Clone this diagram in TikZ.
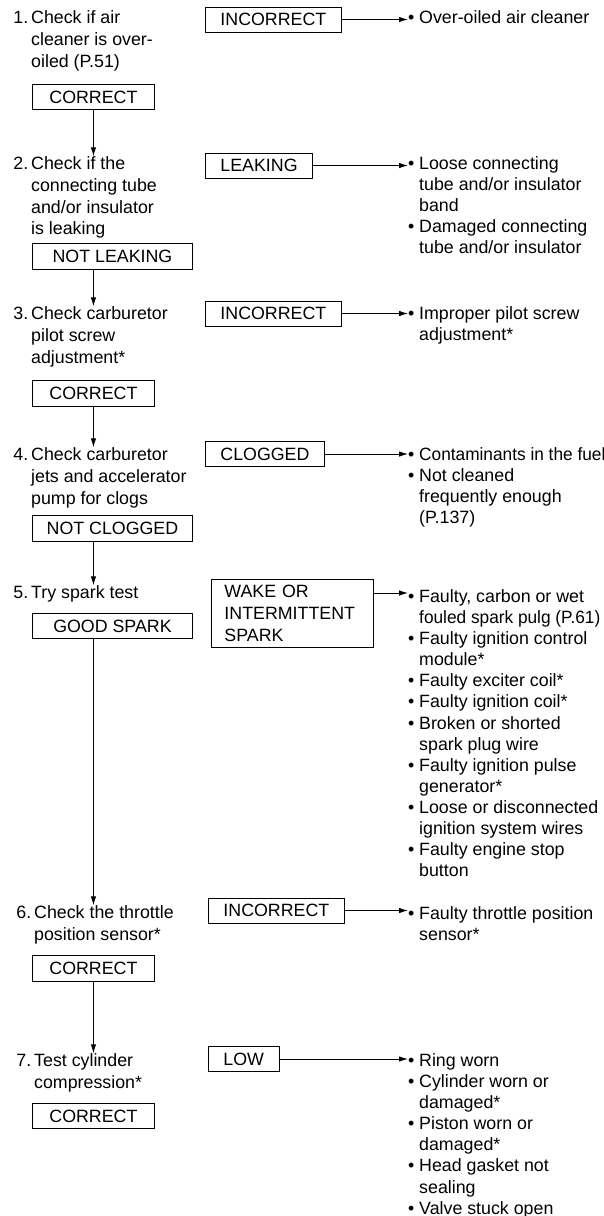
\documentclass[tikz,border=0pt]{standalone}
\usepackage{fontspec}
\setmainfont{Liberation Sans}
\usepackage{tikz}
\usetikzlibrary{arrows.meta}
\tikzstyle{arrow} = [-{Latex[length=9pt,width=5.5pt]},line width=0.9pt]
\tikzstyle{ok} = [draw,line width=0.9pt,anchor=west,minimum height=25.5pt,inner xsep=0pt]
\tikzstyle{fault} = [draw,line width=0.9pt,anchor=west,minimum height=25pt,inner xsep=15pt]
\tikzstyle{txt} = [align=left,anchor=north west,inner sep=0pt]
\tikzstyle{cause} = [txt,font=\fontsize{17.8}{21.1}\selectfont]
\newcommand{\bul}{\llap{\textbullet\ }}

\begin{document}
\begin{tikzpicture}[x=1pt,y=-1pt,font=\fontsize{17.8}{21.8}\selectfont]
        \useasboundingbox (0,0) rectangle (603,1216);
        % checks
        \node[txt] at (31,10.3) (s1) {\llap{1.\,}Check if air\\cleaner is over-\\oiled (P.51)};
        \node[txt] at (31,156.3) (s2) {\llap{2.\,}Check if the\\connecting tube\\and/or insulator\\is leaking};
        \node[txt] at (31,306.3) (s3) {\llap{3.\,}Check carburetor\\pilot screw\\adjustment*};
        \node[txt] at (31,447.3) (s4) {\llap{4.\,}Check carburetor\\jets and accelerator\\pump for clogs};
        \node[txt] at (31,585.3) (s5) {\llap{5.\,}Try spark test};
        \node[txt] at (34,905.3) (s6) {\llap{6.\,}Check the throttle\\position sensor*};
        \node[txt] at (34,1053.3) (s7) {\llap{7.\,}Test cylinder\\compression*};

        % good results
        \node[ok, minimum width=122pt] at (32,97) (c1) {CORRECT};
        \node[ok, minimum width=160pt] at (32,256.5) (c2) {NOT LEAKING};
        \node[ok, minimum width=122pt] at (32,393.5) (c3) {CORRECT};
        \node[ok, minimum width=160pt] at (32,528.5) (c4) {NOT CLOGGED};
        \node[ok, minimum width=160pt] at (32,626) (c5) {GOOD SPARK};
        \node[ok, minimum width=122pt] at (32,968.5) (c6) {CORRECT};
        \node[ok, minimum width=122pt] at (32,1116) (c7) {CORRECT};

        % bad results
        \node[fault] at (205,19.5) (b1) {INCORRECT};
        \node[fault] at (205,165.5) (b2) {LEAKING};
        \node[fault] at (205,313.5) (b3) {INCORRECT};
        \node[fault] at (205,454) (b4) {CLOGGED};
        \node[fault, anchor=north west, align=left, text width=136pt, inner xsep=13pt, inner ysep=6pt] at (211,579) (b5) {WAKE OR\\INTERMITTENT\\SPARK};
        \node[fault] at (208,910.5) (b6) {INCORRECT};
        \node[fault] at (208,1059) (b7) {LOW};

        % causes
        \node[cause] at (419,10.3) (r1) {\bul Over-oiled air cleaner};
        \node[cause] at (419,156.3) (r2) {\bul Loose connecting\\tube and/or insulator\\band\\\bul Damaged connecting\\tube and/or insulator};
        \node[cause] at (419,306.3) (r3) {\bul Improper pilot screw\\adjustment*};
        \node[cause] at (419,447.3) (r4) {\bul \scalebox{0.97}[1]{Contaminants in the fuel}\\\bul Not cleaned\\frequently enough\\(P.137)};
        \node[cause] at (419,589.3) (r5) {\bul Faulty, carbon or wet\\\scalebox{0.97}[1]{fouled spark pulg (P.61)}\\\bul Faulty ignition control\\module*\\\bul Faulty exciter coil*\\\bul Faulty ignition coil*\\\bul Broken or shorted\\spark plug wire\\\bul Faulty ignition pulse\\generator*\\\bul Loose or disconnected\\ignition system wires\\\bul Faulty engine stop\\button};
        \node[cause] at (419,906.3) (r6) {\bul Faulty throttle position\\sensor*};
        \node[cause] at (419,1053.3) (r7) {\bul Ring worn\\\bul Cylinder worn or\\damaged*\\\bul Piston worn or\\damaged*\\\bul Head gasket not\\sealing\\\bul Valve stuck open};

        \draw[arrow] (c1.south) -- (c1.south |- s2.north);
        \draw[arrow] (c1.south |- c2.south) -- (c1.south |- s3.north);
        \draw[arrow] (c3.south) -- (c3.south |- s4.north);
        \draw[arrow] (c1.south |- c4.south) -- (c1.south |- s5.north);
        \draw[arrow] (c1.south |- c5.south) -- (c1.south |- s6.north);
        \draw[arrow] (c6.south) -- (c6.south |- s7.north);

        \draw[arrow, shorten >=11pt] (b1.east) -- (b1.east -| r1.west);
        \draw[arrow, shorten >=11pt] (b2.east) -- (b2.east -| r2.west);
        \draw[arrow, shorten >=11pt] (b3.east) -- (b3.east -| r3.west);
        \draw[arrow, shorten >=11pt] (b4.east) -- (b4.east -| r4.west);
        \draw[arrow, shorten >=11pt] ([yshift=-14pt]b5.north east) -- ([yshift=-14pt]b5.north east -| r5.west);
        \draw[arrow, shorten >=11pt] (b6.east) -- (b6.east -| r6.west);
        \draw[arrow, shorten >=11pt] (b7.east) -- (b7.east -| r7.west);
\end{tikzpicture}
\end{document}
